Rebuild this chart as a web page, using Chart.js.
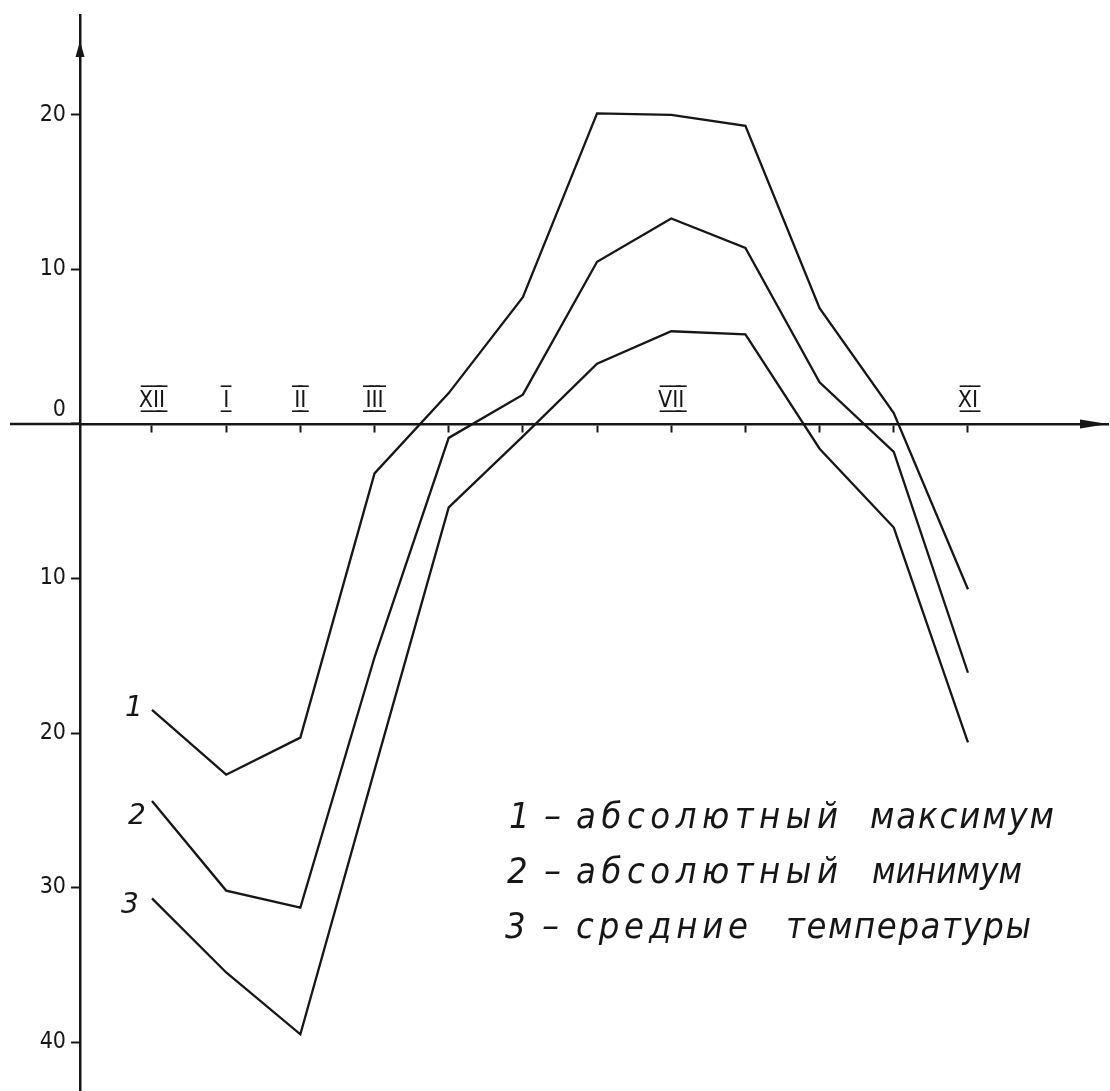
<!DOCTYPE html>
<html lang="ru">
<head>
<meta charset="utf-8">
<title>Температура воздуха по месяцам</title>
<script src="https://cdn.jsdelivr.net/npm/chart.js@4/dist/chart.umd.min.js"></script>
<style>
  html, body { margin: 0; padding: 0; background: #fff; }
  #wrap { width: 1110px; height: 1091px; position: relative; }
</style>
</head>
<body>
<div id="wrap"><canvas id="chart"></canvas></div>
<script>
// Months from December to November (x = 0 … 11)
const months = ['XII', 'I', 'II', 'III', 'IV', 'V', 'VI', 'VII', 'VIII', 'IX', 'X', 'XI'];
const labeledMonths = ['XII', 'I', 'II', 'III', 'VII', 'XI'];

// 1 – absolute maximum, 2 – absolute minimum, 3 – mean, °C
const absMax   = [-18.5, -22.7, -20.3,  -3.2,  2.0,  8.2, 20.1, 20.0, 19.3,  7.5,  0.7, -10.7];
const absMin   = [-24.4, -30.2, -31.3, -15.1, -0.9,  1.9, 10.5, 13.3, 11.4,  2.7, -1.8, -16.1];
const meanTemp = [-30.7, -35.5, -39.5, -22.4, -5.4, -0.8,  3.9,  6.0,  5.8, -1.6, -6.7, -20.6];

const yTicks = [20, 10, 0, -10, -20, -30, -40];

const seriesTags = ['1', '2', '3'];
const legendLines = [
  ['1', '–', 'абсолютный', 'максимум'],
  ['2', '–', 'абсолютный', 'минимум'],
  ['3', '–', 'средние', 'температуры']
];

const INK = '#161616';
const TICK_FONT = "'Liberation Sans Narrow', 'DejaVu Sans Condensed', 'DejaVu Sans', sans-serif";
const HAND_FONT = "'DejaVu Sans', 'Noto Sans', sans-serif";
const KEY_FONT = "'DejaVu Sans Condensed', 'DejaVu Sans', sans-serif";

// Roman numeral with a bar above and below each letter
const barred = s => s.split('').map(c => c + '\u0305\u0332').join('');

// Draws a word so that it spans `width` pixels: letter-spaced when the word is
// shorter, horizontally narrowed when it is longer
function fitText(ctx, text, x, y, width) {
  const chars = [...text];
  const widths = chars.map(c => ctx.measureText(c).width);
  const natural = widths.reduce((a, b) => a + b, 0);
  if (chars.length === 1 || natural >= width) {
    ctx.save();
    ctx.translate(x, y);
    ctx.scale(width / natural, 1);
    ctx.fillText(text, 0, 0);
    ctx.restore();
    return;
  }
  const gap = (width - natural) / (chars.length - 1);
  let cx = x;
  chars.forEach((c, i) => { ctx.fillText(c, cx, y); cx += widths[i] + gap; });
}

// Keep the plot area flush with the canvas edges
const noOverhang = s => { s.paddingTop = 0; s.paddingBottom = 0; s.paddingLeft = 0; s.paddingRight = 0; };

const decor = {
  id: 'decor',
  afterDraw(chart) {
    const { ctx, chartArea, scales: { x, y } } = chart;
    const y0 = y.getPixelForValue(0);
    ctx.save();
    ctx.strokeStyle = INK;
    ctx.fillStyle = INK;
    ctx.lineWidth = 2.5;

    // abscissa continues to the left of the ordinate
    ctx.beginPath();
    ctx.moveTo(10, y0);
    ctx.lineTo(chartArea.left, y0);
    ctx.stroke();

    // arrow on the ordinate
    const ax = chartArea.left;
    ctx.beginPath();
    ctx.moveTo(ax, chartArea.top + 26);
    ctx.lineTo(ax - 4.5, chartArea.top + 42);
    ctx.lineTo(ax + 4.5, chartArea.top + 42);
    ctx.closePath();
    ctx.fill();

    // arrow on the abscissa
    const tip = chartArea.right;
    ctx.beginPath();
    ctx.moveTo(tip, y0);
    ctx.lineTo(tip - 28, y0 - 4.5);
    ctx.lineTo(tip - 28, y0 + 4.5);
    ctx.closePath();
    ctx.fill();

    // curve numbers at the start of each line
    const tagOffsets = [[-18, -1], [-15, 16], [-22, 7]];
    ctx.font = 'italic 28px ' + HAND_FONT;
    ctx.textAlign = 'center';
    ctx.textBaseline = 'middle';
    seriesTags.forEach((t, i) => {
      const p = chart.getDatasetMeta(i).data[0];
      ctx.fillText(t, p.x + tagOffsets[i][0], p.y + tagOffsets[i][1]);
    });

    // key
    ctx.font = 'italic 36px ' + KEY_FONT;
    ctx.textAlign = 'left';
    ctx.textBaseline = 'alphabetic';
    const baseTop = 828, lineStep = 55;
    const cols = [
      [509, 544, 576, 870],
      [507, 544, 576, 872],
      [505, 542, 576, 786]
    ];
    const spans = [
      [null, 17, 262, 184],
      [null, 17, 262, 150],
      [null, 17, 172, 245]
    ];
    legendLines.forEach((words, i) => {
      const by = baseTop + i * lineStep;
      words.forEach((w, j) => {
        if (spans[i][j] === null) ctx.fillText(w, cols[i][j], by);
        else fitText(ctx, w, cols[i][j], by, spans[i][j]);
      });
    });
    ctx.restore();
  }
};

const toPoints = arr => arr.map((v, i) => ({ x: i, y: v }));

new Chart(document.getElementById('chart'), {
  type: 'line',
  data: {
    datasets: [absMax, absMin, meanTemp].map((arr, i) => ({
      label: seriesTags[i],
      data: toPoints(arr),
      borderColor: INK,
      borderWidth: 2.3,
      pointRadius: 0,
      tension: 0,
      fill: false
    }))
  },
  options: {
    responsive: true,
    maintainAspectRatio: false,
    animation: false,
    events: [],
    layout: { padding: { top: 15, right: 2, bottom: 0, left: 0 } },
    plugins: { legend: { display: false }, tooltip: { enabled: false } },
    scales: {
      x: {
        type: 'linear',
        position: { y: 0 },
        min: -0.9706,
        max: 12.888,
        afterFit: s => { s.height = 0; noOverhang(s); },
        afterBuildTicks: s => { s.ticks = months.map((m, i) => ({ value: i })); },
        grid: { drawOnChartArea: false, tickLength: 7, tickWidth: 2, tickColor: INK },
        border: { color: INK, width: 2.5 },
        ticks: {
          autoSkip: false,
          maxRotation: 0,
          padding: -44,
          color: INK,
          font: { family: TICK_FONT, size: 23 },
          callback: v => labeledMonths.includes(months[v]) ? barred(months[v]) : ''
        }
      },
      y: {
        type: 'linear',
        position: 'left',
        min: -43.17,
        max: 26.47,
        afterFit: s => { s.width = 80; noOverhang(s); },
        afterBuildTicks: s => { s.ticks = yTicks.map(v => ({ value: v })); },
        grid: { drawOnChartArea: false, tickLength: 9, tickWidth: 2, tickColor: INK },
        border: { color: INK, width: 2.5 },
        ticks: {
          padding: 5,
          color: INK,
          font: { family: TICK_FONT, size: 23 },
          callback: v => v === 0 ? ['0', ''] : String(Math.abs(v))
        }
      }
    }
  },
  plugins: [decor]
});
</script>
</body>
</html>
